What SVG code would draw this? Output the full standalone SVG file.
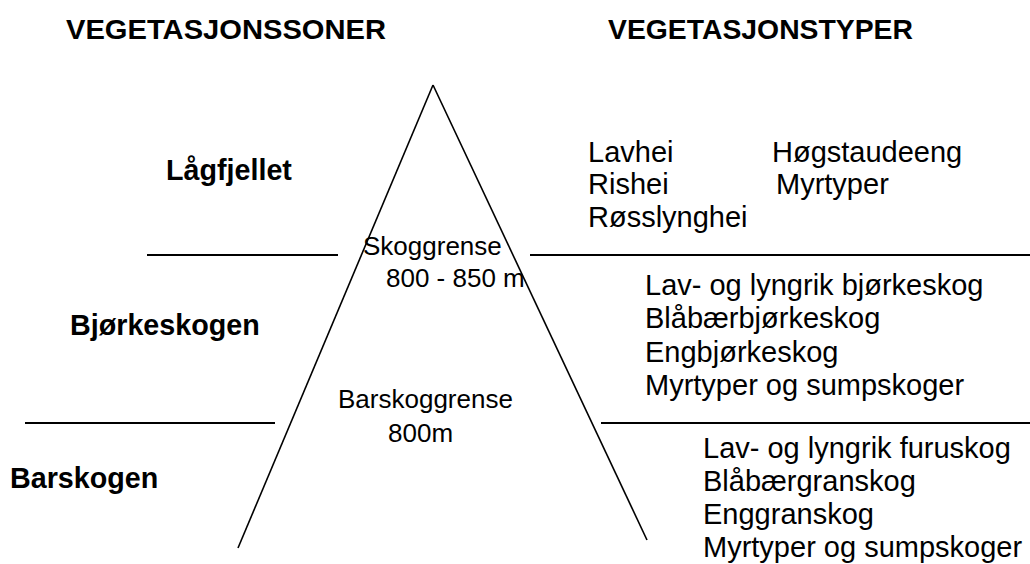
<svg xmlns="http://www.w3.org/2000/svg" width="1030" height="564" viewBox="0 0 1030 564">
<style>
.t{font-family:"Liberation Sans",Arial,sans-serif;fill:#000}
.h{font-size:28.5px;font-weight:bold}
.z{font-size:28.7px;font-weight:bold}
.l{font-size:29px}
.c{font-size:26px}
.ln{stroke:#000;stroke-width:2;fill:none}
.tr{stroke:#000;stroke-width:1.6;fill:none}
</style>
<rect width="1030" height="564" fill="#fff"/>
<g id="connectors">
<line class="tr" x1="433" y1="85" x2="238" y2="548"/>
<line class="tr" x1="433" y1="85" x2="647" y2="540"/>
<line class="ln" x1="147" y1="255" x2="338" y2="255"/>
<line class="ln" x1="530" y1="255" x2="1030" y2="255"/>
<line class="ln" x1="25" y1="423" x2="275" y2="423"/>
<line class="ln" x1="601" y1="423" x2="1030" y2="423"/>
</g>
<g id="title-zones"><text class="t h" x="66" y="39" textLength="320" lengthAdjust="spacingAndGlyphs">VEGETASJONSSONER</text></g>
<g id="title-types"><text class="t h" x="608" y="39" textLength="305" lengthAdjust="spacingAndGlyphs">VEGETASJONSTYPER</text></g>
<g id="zone-lagfjellet"><text class="t z" x="166" y="180">Lågfjellet</text></g>
<g id="zone-bjorkeskogen"><text class="t z" x="70" y="335">Bjørkeskogen</text></g>
<g id="zone-barskogen"><text class="t z" x="10" y="488">Barskogen</text></g>
<g id="skoggrense">
<text class="t c" x="363" y="255">Skoggrense</text>
<text class="t c" x="386" y="287">800 - 850 m</text>
</g>
<g id="barskoggrense">
<text class="t c" x="338" y="408">Barskoggrense</text>
<text class="t c" x="388" y="442">800m</text>
</g>
<g id="types-lagfjellet">
<text class="t l" x="588" y="162">Lavhei</text>
<text class="t l" x="588" y="194">Rishei</text>
<text class="t l" x="588" y="227">Røsslynghei</text>
<text class="t l" x="772" y="162">Høgstaudeeng</text>
<text class="t l" x="776" y="194">Myrtyper</text>
</g>
<g id="types-bjorkeskogen">
<text class="t l" x="645" y="295">Lav- og lyngrik bjørkeskog</text>
<text class="t l" x="645" y="328">Blåbærbjørkeskog</text>
<text class="t l" x="645" y="362">Engbjørkeskog</text>
<text class="t l" x="645" y="395">Myrtyper og sumpskoger</text>
</g>
<g id="types-barskogen">
<text class="t l" x="703" y="458">Lav- og lyngrik furuskog</text>
<text class="t l" x="703" y="491">Blåbærgranskog</text>
<text class="t l" x="703" y="524">Enggranskog</text>
<text class="t l" x="703" y="557">Myrtyper og sumpskoger</text>
</g>
</svg>
